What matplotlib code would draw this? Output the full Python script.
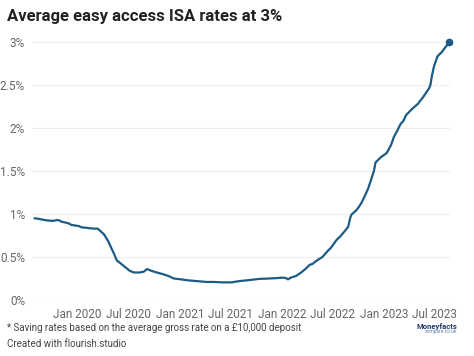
import matplotlib
matplotlib.use("Agg")
import matplotlib.pyplot as plt
import pandas as pd

dates = [
    "2019-08-01", "2019-08-12", "2019-08-20", "2019-09-05", "2019-09-15", "2019-10-05",
    "2019-10-20", "2019-10-28", "2019-11-05", "2019-11-12", "2019-11-20", "2019-12-01",
    "2019-12-08", "2019-12-25", "2020-01-05", "2020-01-15", "2020-02-01", "2020-02-10",
    "2020-03-01", "2020-03-12", "2020-03-20", "2020-04-05", "2020-04-20", "2020-05-01",
    "2020-05-10", "2020-05-20", "2020-06-05", "2020-06-20", "2020-07-05", "2020-07-20",
    "2020-08-10", "2020-08-25", "2020-09-05", "2020-09-20", "2020-10-10", "2020-11-01",
    "2020-11-20", "2020-12-10", "2021-01-05", "2021-01-25", "2021-03-01", "2021-04-05",
    "2021-05-01", "2021-06-01", "2021-07-05", "2021-08-01", "2021-09-01", "2021-10-10",
    "2021-11-15", "2021-12-15", "2022-01-01", "2022-01-15", "2022-01-22", "2022-02-01",
    "2022-02-20", "2022-03-10", "2022-03-25", "2022-04-10", "2022-04-20", "2022-05-01",
    "2022-05-15", "2022-05-25", "2022-06-10", "2022-06-25", "2022-07-15", "2022-07-28",
    "2022-08-10", "2022-08-25", "2022-09-01", "2022-09-05", "2022-09-25", "2022-10-10",
    "2022-10-25", "2022-11-05", "2022-11-15", "2022-11-25", "2022-12-01", "2022-12-20",
    "2023-01-10", "2023-01-25", "2023-02-05", "2023-02-15", "2023-03-01", "2023-03-10",
    "2023-03-20", "2023-04-10", "2023-05-01", "2023-05-20", "2023-06-10", "2023-06-15",
    "2023-06-20", "2023-06-28", "2023-07-10", "2023-07-15", "2023-07-25", "2023-08-10",
    "2023-08-22",
]
rates = [
    0.95, 0.945, 0.94, 0.93, 0.925, 0.92,
    0.93, 0.925, 0.91, 0.905, 0.90, 0.89,
    0.875, 0.865, 0.86, 0.845, 0.84, 0.835,
    0.83, 0.83, 0.81, 0.76, 0.68, 0.60,
    0.54, 0.46, 0.42, 0.38, 0.34, 0.32,
    0.32, 0.33, 0.36, 0.34, 0.32, 0.30,
    0.28, 0.25, 0.24, 0.23, 0.22, 0.21,
    0.21, 0.205, 0.205, 0.22, 0.23, 0.245,
    0.25, 0.255, 0.26, 0.255, 0.24, 0.26,
    0.28, 0.32, 0.36, 0.41, 0.42, 0.45,
    0.48, 0.50, 0.56, 0.61, 0.70, 0.74,
    0.79, 0.85, 0.95, 0.99, 1.05, 1.12,
    1.22, 1.30, 1.40, 1.50, 1.60, 1.66,
    1.71, 1.80, 1.90, 1.96, 2.05, 2.08,
    2.15, 2.22, 2.28, 2.36, 2.46, 2.50,
    2.60, 2.72, 2.83, 2.85, 2.88, 2.95,
    3.00,
]
x_ticks = ["2020-01-01", "2020-07-01", "2021-01-01", "2021-07-01",
           "2022-01-01", "2022-07-01", "2023-01-01", "2023-07-01"]
x_tick_labels = ["Jan 2020", "Jul 2020", "Jan 2021", "Jul 2021",
                 "Jan 2022", "Jul 2022", "Jan 2023", "Jul 2023"]
y_ticks = [0, 0.5, 1, 1.5, 2, 2.5, 3]
y_tick_labels = ["0%", "0.5%", "1%", "1.5%", "2%", "2.5%", "3%"]

title = "Average easy access ISA rates at 3%"
note = "* Saving rates based on the average gross rate on a £10,000 deposit"
credit = "Created with flourish.studio"

plt.rcParams['font.family'] = ['Roboto', 'DejaVu Sans']

W, H = 474, 356
fig = plt.figure(figsize=(W / 100, H / 100), dpi=100)
fig.patch.set_facecolor("white")
ax = fig.add_axes([32 / W, (H - 300) / H, (450 - 32) / W, (300 - 42) / H])

d = pd.to_datetime(dates)
color = "#1b5b85"
ax.plot(d, rates, color=color, lw=1.6, solid_joinstyle="round", zorder=3)
ax.plot(d[-1:], rates[-1:], "o", color=color, ms=4.5, zorder=4, clip_on=False)

ax.set_xlim(pd.Timestamp("2019-07-22"), pd.Timestamp("2023-08-24"))
ax.set_ylim(0, 3)
ax.set_yticks(y_ticks)
ax.set_yticklabels(y_tick_labels)
ax.set_xticks(pd.to_datetime(x_ticks))
ax.set_xticklabels(x_tick_labels)
for s in ax.spines.values():
    s.set_visible(False)
ax.tick_params(axis="both", length=0, colors="#666666", labelsize=8.5)
ax.tick_params(axis="y", pad=5)
ax.tick_params(axis="x", pad=6)
ax.grid(axis="y", color="#eeeeee", lw=0.8)
ax.set_axisbelow(True)

fig.text(7 / W, 1 - 17 / H, title, fontsize=12, fontweight="bold",
         color="#222222", va="center", ha="left")
fig.text(7 / W, 1 - 328 / H, note, fontsize=7, color="#444444", va="center", ha="left")
fig.text(7 / W, 1 - 344 / H, credit, fontsize=7, color="#444444", va="center", ha="left")
fig.text(457 / W, 1 - 326 / H, "Moneyfacts", fontsize=5.5, fontweight="bold",
         color="#1d3a6e", va="center", ha="right")
fig.text(457 / W, 1 - 332 / H, "compare.co.uk", fontsize=3.5,
         color="#6a7fa8", va="center", ha="right")

fig.savefig("out.png", dpi=100, facecolor="white")
